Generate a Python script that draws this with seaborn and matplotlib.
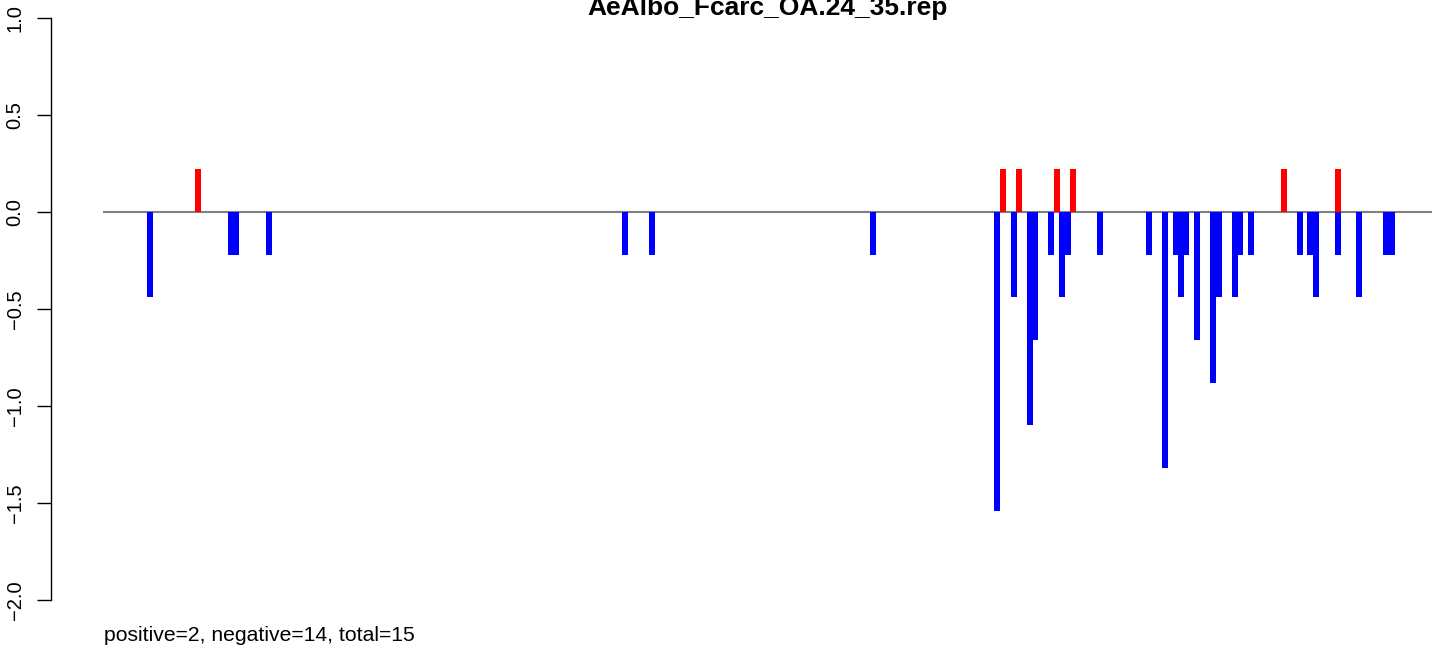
import matplotlib
matplotlib.use("Agg")
import matplotlib.pyplot as plt
import seaborn as sns
import pandas as pd
import numpy as np

# ---- data ----
title = "AeAlbo_Fcarc_OA.24_35.rep"
footer = "positive=2, negative=14, total=15"

neg_pos = [47, 128, 133, 166, 522, 549, 770, 894, 911, 927, 932, 948, 959, 965,
           997, 1046, 1062, 1073, 1078, 1083, 1094, 1110, 1116, 1132, 1137, 1148,
           1197, 1207, 1213, 1235, 1256, 1283, 1289]
neg_val = [-0.44, -0.22, -0.22, -0.22, -0.22, -0.22, -0.22, -1.54, -0.44, -1.10,
           -0.66, -0.22, -0.44, -0.22, -0.22, -0.22, -1.32, -0.22, -0.44, -0.22,
           -0.66, -0.88, -0.44, -0.44, -0.22, -0.22, -0.22, -0.22, -0.44, -0.22,
           -0.44, -0.22, -0.22]
pos_pos = [95, 900, 916, 954, 970, 1181, 1235]
pos_val = [0.22, 0.22, 0.22, 0.22, 0.22, 0.22, 0.22]

x_range = (0, 1329)
y_ticks = [-2.0, -1.5, -1.0, -0.5, 0.0, 0.5, 1.0]
y_range = (-2.0, 1.0)

df = pd.DataFrame({
    "pos": neg_pos + pos_pos,
    "val": neg_val + pos_val,
    "sign": ["neg"] * len(neg_pos) + ["pos"] * len(pos_pos),
})

# ---- figure ----
sns.set_theme(style="white")
plt.rcParams["font.family"] = ["Liberation Sans", "DejaVu Sans"]

W, H, DPI = 1444, 655, 100
fig = plt.figure(figsize=(W / DPI, H / DPI), dpi=DPI)
ax = fig.add_axes([103 / W, (H - 600) / H, 1329 / W, 582 / H])

ax.axhline(0, color="#808080", lw=1.5, zorder=0)

uniq = np.unique(df["pos"])
min_gap = np.min(np.diff(uniq))
bar_w = 6.0 / min_gap

sns.barplot(data=df, x="pos", y="val", hue="sign", native_scale=True,
            palette={"neg": "#0000FF", "pos": "#FF0000"}, dodge=False,
            errorbar=None, width=bar_w, linewidth=0, legend=False,
            saturation=1, ax=ax, zorder=2)

ax.set_xlim(*x_range)
ax.set_ylim(*y_range)
ax.set_xlabel("")
ax.set_ylabel("")
ax.set_xticks([])
ax.set_yticks(y_ticks)
ax.set_yticklabels([f"{t:.1f}".replace("-", "\u2212") for t in y_ticks])

for s in ["top", "right", "bottom"]:
    ax.spines[s].set_visible(False)
ax.spines["left"].set_position(("outward", 52 * 72 / DPI))
ax.spines["left"].set_color("black")
ax.spines["left"].set_linewidth(1.0)
ax.tick_params(axis="y", which="major", left=True, length=10, width=1.0,
               color="black", pad=9, labelsize=14.5, labelcolor="black")
for lab in ax.get_yticklabels():
    lab.set_rotation(90)
    lab.set_va("center")

fig.text(767.5 / W, (H - 15) / H, title, ha="center", va="baseline",
         fontsize=19, fontweight="bold", color="black")
fig.text(104 / W, (H - 641) / H, footer, ha="left", va="baseline",
         fontsize=15.2, color="black")

fig.savefig("out.png", dpi=DPI, facecolor="white")
